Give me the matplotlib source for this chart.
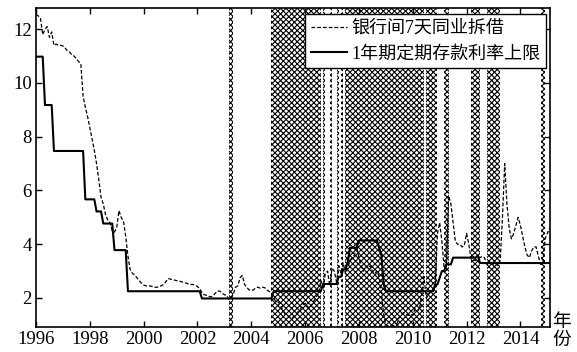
import numpy as np
import pandas as pd
import matplotlib
matplotlib.use("Agg")
import matplotlib.pyplot as plt

plt.rcParams['font.family'] = ['Liberation Serif', 'Noto Sans CJK SC']
plt.rcParams['hatch.linewidth'] = 0.8
plt.rcParams['hatch.color'] = 'black'

# 7-day interbank rate (%), monthly, Jan 1996 .. Feb 2015
interbank_7d = [
    12.55, 12.5, 12.4, 11.8, 12.0, 12.1, 11.7, 11.9, 11.4, 11.45, 11.4, 11.4,   # 1996
    11.38, 11.3, 11.2, 11.15, 11.05, 11.0, 10.9, 10.8, 10.7, 9.5, 9.1, 8.75,    # 1997
    8.33, 7.9, 7.5, 7.0, 6.4, 5.75, 5.5, 5.1, 4.9, 4.8, 4.5, 4.45,              # 1998
    4.63, 5.25, 5.0, 4.85, 4.3, 3.55, 3.05, 2.92, 2.85, 2.75, 2.65, 2.55,       # 1999
    2.48, 2.45, 2.44, 2.45, 2.42, 2.4, 2.4, 2.42, 2.46, 2.5, 2.62, 2.72,        # 2000
    2.7, 2.68, 2.66, 2.64, 2.62, 2.6, 2.58, 2.55, 2.52, 2.5, 2.5, 2.48,         # 2001
    2.42, 2.35, 2.2, 2.12, 2.1, 2.06, 2.04, 2.08, 2.18, 2.26, 2.25, 2.18,       # 2002
    2.12, 2.1, 1.95, 1.97, 2.15, 2.4, 2.45, 2.75, 2.84, 2.5, 2.4, 2.3,          # 2003
    2.28, 2.3, 2.38, 2.4, 2.36, 2.4, 2.38, 2.3, 2.24, 2.2, 2.0, 1.85,           # 2004
    1.85, 1.75, 1.55, 1.4, 1.35, 1.3, 1.25, 1.3, 1.4, 1.5, 1.6, 1.75,           # 2005
    1.8, 1.7, 1.6, 1.75, 1.9, 2.05, 2.15, 2.65, 2.4, 2.9, 3.0, 2.45,            # 2006
    3.1, 3.0, 2.6, 3.2, 2.9, 3.3, 2.9, 3.1, 3.4, 3.5, 3.6, 3.9,                 # 2007
    3.5, 3.2, 3.0, 3.2, 3.1, 3.2, 3.0, 2.9, 3.0, 2.8, 2.2, 1.4,                 # 2008
    0.98, 0.96, 0.97, 0.97, 0.98, 1.05, 1.3, 1.4, 1.45, 1.4, 1.35, 1.4,         # 2009
    1.35, 1.6, 1.5, 1.6, 2.1, 2.8, 2.0, 2.1, 2.25, 2.3, 2.4, 4.4,               # 2010
    4.8, 4.1, 3.1, 3.15, 5.8, 5.5, 4.8, 4.1, 4.0, 4.0, 3.9, 3.95,               # 2011
    4.4, 4.0, 3.45, 3.4, 3.4, 3.45, 3.5, 3.55, 3.5, 3.25, 3.25, 3.28,           # 2012
    3.25, 3.28, 3.2, 3.4, 5.0, 7.0, 5.5, 4.6, 4.2, 4.4, 4.7, 5.0,               # 2013
    4.7, 4.3, 3.9, 3.6, 3.5, 3.75, 3.9, 3.9, 3.55, 3.25, 3.28, 4.2,             # 2014
    4.4, 4.6,                                                                   # 2015
]

# 1-year deposit rate ceiling (%): change dates and new rate
deposit_dates = ["1996-01-01", "1996-05-01", "1996-08-23", "1997-10-23", "1998-03-25",
                 "1998-07-01", "1998-12-07", "1999-06-10", "2002-02-21", "2004-10-29",
                 "2006-08-19", "2007-03-18", "2007-05-19", "2007-07-21", "2007-08-22",
                 "2007-09-15", "2007-12-21", "2008-10-09", "2008-10-30", "2008-11-27",
                 "2008-12-23", "2010-10-20", "2010-12-26", "2011-02-09", "2011-04-06",
                 "2011-07-07", "2012-06-08", "2012-07-06", "2014-11-22"]
deposit_rates = [10.98, 9.18, 7.47, 5.67, 5.22, 4.77, 3.78, 2.25, 1.98, 2.25,
                 2.52, 2.79, 3.06, 3.33, 3.60, 3.87, 4.14, 3.87, 3.60, 2.52,
                 2.25, 2.50, 2.75, 3.00, 3.25, 3.50, 3.575, 3.30, 3.30]

# shaded months (first month, last month of each run)
shade_from = ["2003-03", "2004-10", "2006-09", "2006-12", "2007-03", "2007-05",
              "2007-07", "2010-07", "2011-03", "2012-03", "2012-10", "2014-10"]
shade_to = ["2003-04", "2006-07", "2006-09", "2006-12", "2007-03", "2007-05",
            "2010-05", "2010-11", "2011-04", "2012-06", "2013-03", "2014-11"]


def year_frac(ts):
    return ts.year + (ts.month - 1) / 12


months = pd.date_range("1996-01-01", periods=len(interbank_7d), freq="MS")
x = np.array([year_frac(m) for m in months])

# deposit rate in effect at mid-month
dep = pd.Series(deposit_rates, index=pd.to_datetime(deposit_dates))
mid = months + pd.Timedelta(days=14)
deposit_monthly = dep.reindex(dep.index.union(mid)).ffill().loc[mid].to_numpy()

fig = plt.figure(figsize=(5.77, 3.52), dpi=100)
ax = fig.add_axes([36 / 577, 25.3 / 352, 514 / 577, 318.4 / 352])

for a, b in zip(shade_from, shade_to):
    s = year_frac(pd.Timestamp(a))
    e = year_frac(pd.Timestamp(b)) + 1 / 12
    ax.axvspan(s, e, facecolor="white", edgecolor="black", hatch="xxxxxx", lw=0, zorder=1)

ax.plot(x, interbank_7d, color="black", lw=0.9, ls=(0, (3, 1.6)), zorder=3,
        label="银行间7天同业拆借")
ax.plot(x, deposit_monthly, color="black", lw=1.5, zorder=4,
        label="1年期定期存款利率上限")

ax.set_xlim(1996, 2015.1)
ax.set_ylim(0.93, 12.78)
ax.set_xticks(np.arange(1996, 2015, 2))
ax.set_yticks(np.arange(2, 13, 2))
ax.tick_params(direction="in", length=4, width=1, labelsize=13.5, top=True, right=True, pad=3)
for sp in ax.spines.values():
    sp.set_linewidth(1.2)

leg = ax.legend(loc="upper right", bbox_to_anchor=(0.993, 0.983), fontsize=13,
                handlelength=2.0, handletextpad=0.2, labelspacing=0.45,
                borderpad=0.35, borderaxespad=0, fancybox=False, framealpha=1,
                edgecolor="black")
leg.get_frame().set_linewidth(1.0)
leg.set_zorder(5)

fig.text(0.973, 0.058, "年\n份", ha="center", va="center", fontsize=13.5, linespacing=1.05)

fig.savefig("out.png", dpi=100)
